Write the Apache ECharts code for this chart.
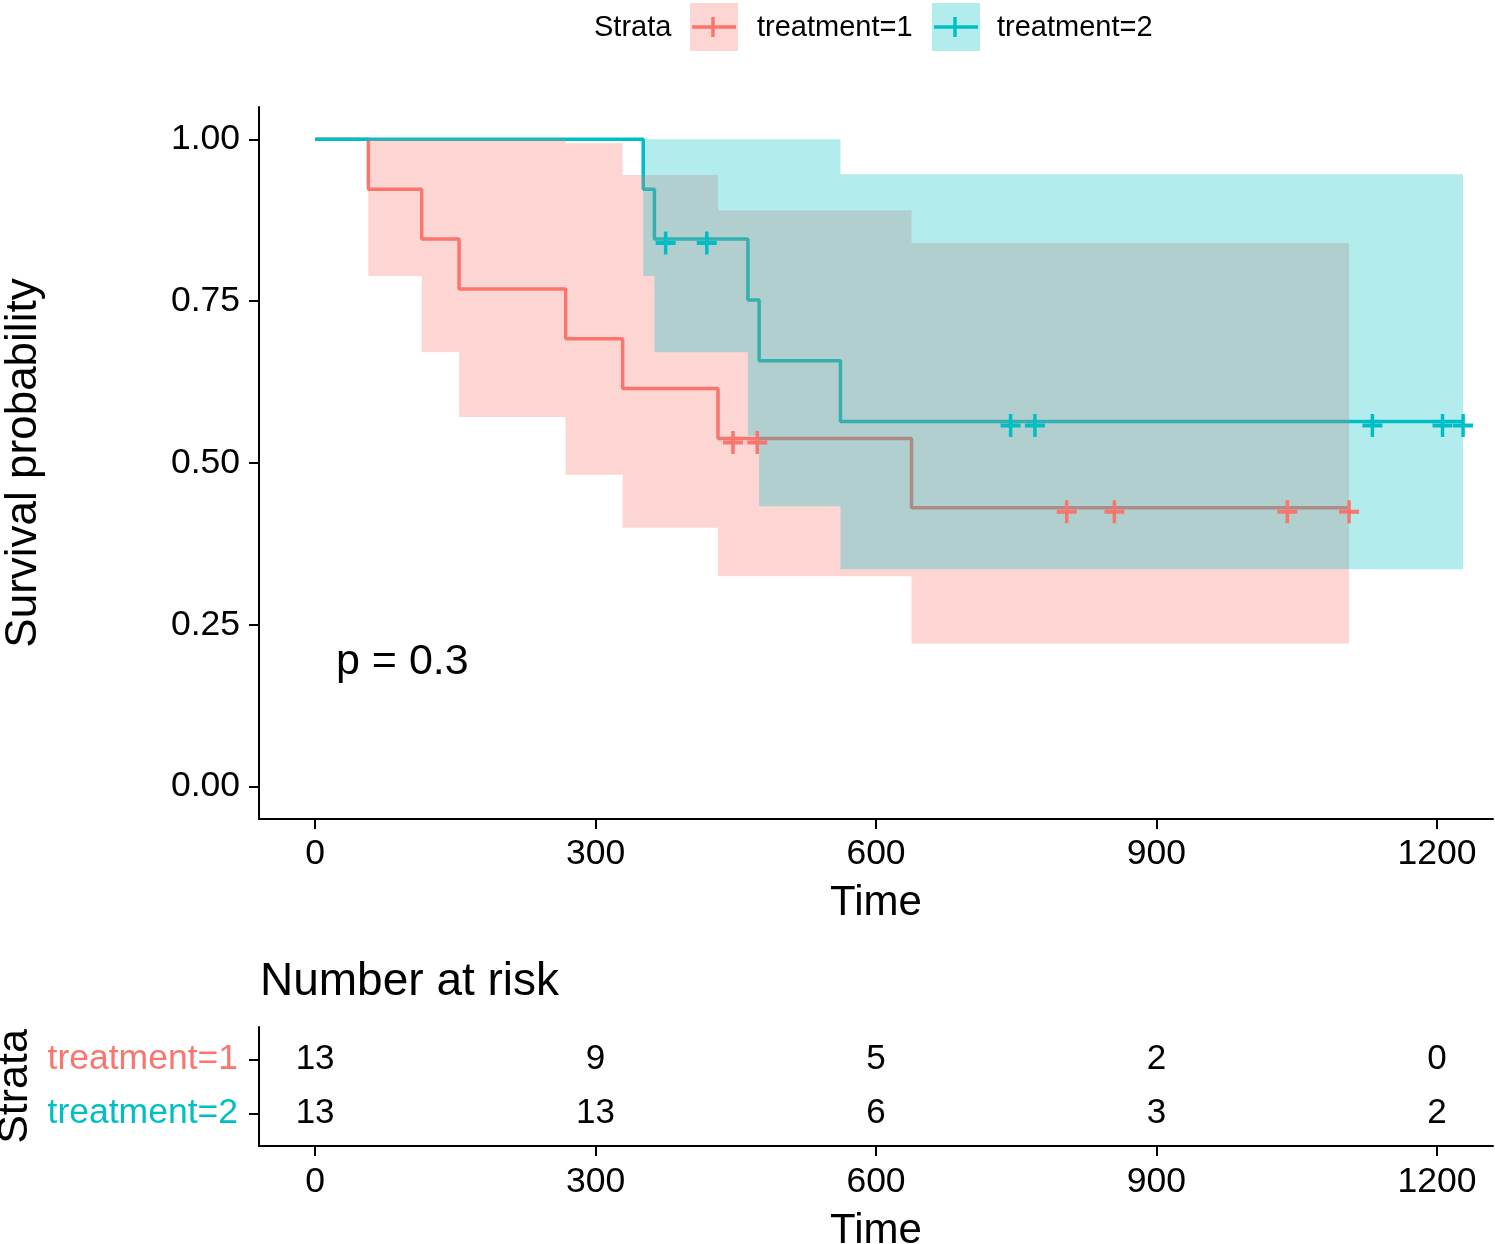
<!DOCTYPE html>
<html><head><meta charset="utf-8">
<script src="https://cdn.jsdelivr.net/npm/echarts@6/dist/echarts.min.js"></script>
<style>html,body{margin:0;padding:0;background:#fff}#c{width:1495px;height:1244px}</style>
</head><body><div id="c"></div>
<script>
// ---- data ----
const strata = ['treatment=1', 'treatment=2'];
const timeTicks = [0, 300, 600, 900, 1200];
const survTicks = [0, 0.25, 0.5, 0.75, 1];
// Kaplan-Meier step curves: [time, survival]
const km1 = [[0,1],[57,0.923],[114,0.846],[154,0.769],[268,0.692],[329,0.615],[431,0.538],[638,0.431],[1106,0.431]];
const km2 = [[0,1],[351,0.923],[363,0.846],[463,0.752],[475,0.658],[562,0.564],[1228,0.564]];
// confidence band: [time, lower, upper]
const ci1 = [[57,0.789,1],[114,0.671,1],[154,0.571,1],[268,0.482,0.994],[329,0.400,0.945],[431,0.325,0.890],[638,0.221,0.840],[1106,0.221,0.840]];
const ci2 = [[351,0.789,1],[363,0.671,1],[463,0.542,1],[475,0.433,1],[562,0.336,0.946],[1228,0.336,0.946]];
// censor marks: [time, survival]
const cens1 = [[447,0.538],[473,0.538],[804,0.431],[855,0.431],[1040,0.431],[1106,0.431]];
const cens2 = [[375,0.846],[419,0.846],[744,0.564],[770,0.564],[1131,0.564],[1206,0.564],[1228,0.564]];
// number at risk table
const riskTimes = [0, 300, 600, 900, 1200];
const risk1 = [13, 9, 5, 2, 0];
const risk2 = [13, 13, 6, 3, 2];
const pText = 'p = 0.3';

// ---- styling ----
const RED = '#F8766D', TEAL = '#00BFC4';
const RED_A = 'rgba(248,118,109,0.3)', TEAL_A = 'rgba(0,191,196,0.3)';
const FONT = '"Liberation Sans", Arial, sans-serif';
const PLUS = 'path://M8.25,0H11.75V8.25H20V11.75H11.75V20H8.25V11.75H0V8.25H8.25Z';

function xAxisDef(gridIndex, labelMargin, nameGap) {
  return {
    type: 'value', gridIndex: gridIndex, min: -60, max: 1260,
    axisLine: { show: true, onZero: false, lineStyle: { color: '#000', width: 2 } },
    axisTick: { show: true, length: 10, customValues: timeTicks, lineStyle: { color: '#000', width: 2 } },
    axisLabel: { customValues: timeTicks, formatter: v => String(v), margin: labelMargin,
                 fontSize: 35.5, color: '#000', fontFamily: FONT },
    splitLine: { show: false },
    name: 'Time', nameLocation: 'middle', nameGap: nameGap,
    nameTextStyle: { fontSize: 42, color: '#000', fontFamily: FONT }
  };
}

// step band drawn as one polygon through the axis scales
function bandSeries(ci, color, z) {
  return {
    type: 'custom', silent: true, z: z, clip: true,
    data: ci,
    encode: { x: 0, y: [1, 2] },
    renderItem: function (params, api) {
      if (params.dataIndex !== 0) return null;
      const up = [], lo = [];
      for (let i = 0; i < ci.length; i++) {
        const t0 = ci[i][0];
        const t1 = i < ci.length - 1 ? ci[i + 1][0] : ci[i][0];
        up.push(api.coord([t0, ci[i][2]]), api.coord([t1, ci[i][2]]));
        lo.push(api.coord([t0, ci[i][1]]), api.coord([t1, ci[i][1]]));
      }
      const pts = up.concat(lo.reverse());
      return { type: 'polygon', shape: { points: pts }, style: { fill: color } };
    }
  };
}

function riskSeries(values, row) {
  return {
    type: 'scatter', xAxisIndex: 1, yAxisIndex: 1, symbolSize: 1, silent: true, z: 6,
    itemStyle: { color: 'rgba(0,0,0,0)', opacity: 1 },
    data: values.map((n, i) => [riskTimes[i], row, n]),
    label: { show: true, position: 'inside', formatter: p => String(p.value[2]),
             fontSize: 35, color: '#000', opacity: 1, textBorderWidth: 0, fontFamily: FONT }
  };
}

const chart = echarts.init(document.getElementById('c'), null, { renderer: 'canvas' });
chart.setOption({
  animation: false,
  backgroundColor: '#fff',
  textStyle: { fontFamily: FONT },
  grid: [
    { left: 259, top: 107, width: 1234, height: 712, containLabel: false, outerBoundsMode: 'none' },
    { left: 259, top: 1027, width: 1234, height: 119, containLabel: false, outerBoundsMode: 'none' }
  ],
  xAxis: [xAxisDef(0, 17, 63), xAxisDef(1, 18, 64)],
  yAxis: [
    { type: 'value', gridIndex: 0, min: -0.05, max: 1.05,
      axisLine: { show: true, onZero: false, lineStyle: { color: '#000', width: 2 } },
      axisTick: { show: true, length: 10, customValues: survTicks, lineStyle: { color: '#000', width: 2 } },
      axisLabel: { customValues: survTicks, formatter: v => Number(v).toFixed(2), margin: 19,
                   fontSize: 35.5, color: '#000', fontFamily: FONT },
      splitLine: { show: false },
      name: 'Survival probability', nameLocation: 'middle', nameGap: 213,
      nameTextStyle: { fontSize: 44, color: '#000', fontFamily: FONT } },
    { type: 'value', gridIndex: 1, min: 0.4, max: 2.6, inverse: true,
      axisLine: { show: true, onZero: false, lineStyle: { color: '#000', width: 2 } },
      axisTick: { show: true, length: 10, customValues: [1, 2], lineStyle: { color: '#000', width: 2 } },
      axisLabel: { customValues: [1, 2], margin: 21, fontFamily: FONT,
                   formatter: v => '{s' + Math.round(v) + '|' + strata[Math.round(v) - 1] + '}',
                   rich: { s1: { color: RED, fontSize: 35.5, fontFamily: FONT },
                           s2: { color: TEAL, fontSize: 35.5, fontFamily: FONT } } },
      splitLine: { show: false },
      name: 'Strata', nameLocation: 'middle', nameGap: 204,
      nameTextStyle: { fontSize: 43, color: '#000', fontFamily: FONT } }
  ],
  series: [
    { type: 'line', name: strata[0], step: 'end', showSymbol: false, silent: true, z: 2,
      data: km1, lineStyle: { color: RED, width: 3.5 } },
    { type: 'line', name: strata[1], step: 'end', showSymbol: false, silent: true, z: 2,
      data: km2, lineStyle: { color: TEAL, width: 3.5 } },
    bandSeries(ci1, RED_A, 3),
    bandSeries(ci2, TEAL_A, 4),
    { type: 'scatter', data: cens1, symbol: PLUS, symbolSize: [20, 23], symbolOffset: [0, 4],
      itemStyle: { color: RED, opacity: 1 }, z: 6, silent: true },
    { type: 'scatter', data: cens2, symbol: PLUS, symbolSize: [20, 23], symbolOffset: [0, 4],
      itemStyle: { color: TEAL, opacity: 1 }, z: 6, silent: true },
    riskSeries(risk1, 1),
    riskSeries(risk2, 2)
  ],
  graphic: [
    { type: 'text', x: 594, y: 28, style: { text: 'Strata', fontSize: 29, fontFamily: FONT, fill: '#000', verticalAlign: 'middle' } },
    { type: 'rect', shape: { x: 690, y: 3, width: 48, height: 48 }, style: { fill: RED_A } },
    { type: 'line', shape: { x1: 692, y1: 27, x2: 736, y2: 27 }, style: { stroke: RED, lineWidth: 3.5 } },
    { type: 'line', shape: { x1: 713, y1: 17, x2: 713, y2: 37 }, style: { stroke: RED, lineWidth: 3.5 } },
    { type: 'text', x: 757, y: 28, style: { text: strata[0], fontSize: 29, fontFamily: FONT, fill: '#000', verticalAlign: 'middle' } },
    { type: 'rect', shape: { x: 932, y: 3, width: 48, height: 48 }, style: { fill: TEAL_A } },
    { type: 'line', shape: { x1: 934, y1: 27, x2: 978, y2: 27 }, style: { stroke: TEAL, lineWidth: 3.5 } },
    { type: 'line', shape: { x1: 955, y1: 17, x2: 955, y2: 37 }, style: { stroke: TEAL, lineWidth: 3.5 } },
    { type: 'text', x: 997, y: 28, style: { text: strata[1], fontSize: 29, fontFamily: FONT, fill: '#000', verticalAlign: 'middle' } },
    { type: 'text', x: 336, y: 662, style: { text: pText, fontSize: 43, fontFamily: FONT, fill: '#000', verticalAlign: 'middle' } },
    { type: 'text', x: 260, y: 982, style: { text: 'Number at risk', fontSize: 46, fontFamily: FONT, fill: '#000', verticalAlign: 'middle' } }
  ]
});
</script>
</body></html>
